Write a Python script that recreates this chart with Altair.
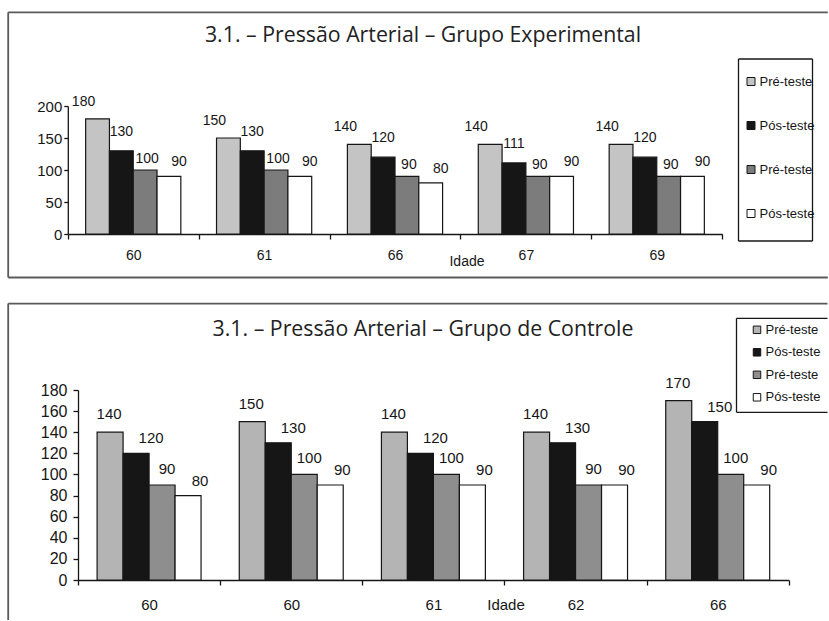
import altair as alt
import pandas as pd

# ---------------- data ----------------
series_keys = ["s1", "s2", "s3", "s4"]
legend_labels = ["Pré-teste", "Pós-teste", "Pré-teste", "Pós-teste"]

idade_exp = ["60", "61", "66", "67", "69"]
exp_pre1 = [180, 150, 140, 140, 140]
exp_pos1 = [130, 130, 120, 111, 120]
exp_pre2 = [100, 100, 90, 90, 90]
exp_pos2 = [90, 90, 80, 90, 90]

idade_ctl = ["60", "60", "61", "62", "66"]
ctl_pre1 = [140, 150, 140, 140, 170]
ctl_pos1 = [120, 130, 120, 130, 150]
ctl_pre2 = [90, 100, 100, 90, 100]
ctl_pos2 = [80, 90, 90, 90, 90]

title_exp = "3.1. – Pressão Arterial – Grupo Experimental"
title_ctl = "3.1. – Pressão Arterial – Grupo de Controle"
x_title = "Idade"


def make_df(ages, cols):
    rows = []
    for i, age in enumerate(ages):
        for k, vals in zip(series_keys, cols):
            rows.append({"g": i, "idade": age, "serie": k, "valor": vals[i]})
    return pd.DataFrame(rows)


df_exp = make_df(idade_exp, [exp_pre1, exp_pos1, exp_pre2, exp_pos2])
df_ctl = make_df(idade_ctl, [ctl_pre1, ctl_pos1, ctl_pre2, ctl_pos2])
one = pd.DataFrame({"k": [0]})

legend_expr = ("datum.label == 's1' || datum.label == 's3' ? '%s' : '%s'"
               % (legend_labels[0], legend_labels[1]))

INK = "#161616"
FRAME = "#5a5a5a"
SANS = "Liberation Sans, Arial, sans-serif"
NOVIEW = alt.ViewBackground(stroke="transparent", strokeWidth=0)


def hrule(x1, x2, y, color, w):
    return alt.Chart(one).mark_rule(color=color, strokeWidth=w).encode(
        x=alt.value(x1), x2=alt.value(x2), y=alt.value(y))


def vrule(x, y1, y2, color, w):
    return alt.Chart(one).mark_rule(color=color, strokeWidth=w).encode(
        x=alt.value(x), y=alt.value(y1), y2=alt.value(y2))


def panel(df, ages, c):
    s = c["shift"]  # horizontal shift of the plot area relative to the group origin
    label_expr = "[" + ",".join("'%s'" % a for a in ages) + "][datum.value]"
    x = alt.X("g:O",
              scale=alt.Scale(paddingInner=0, paddingOuter=0, range=[-s, c["W"] - s]),
              axis=alt.Axis(labelExpr=label_expr, tickBand="extent", labelAngle=0,
                            title=x_title, titleX=c["titleX"] - s, titleY=c["titleY"],
                            titleAlign="center", titleBaseline="top",
                            titleFont=SANS, titleFontSize=c["fs"],
                            titleFontWeight="normal", titleColor=INK,
                            labelFont=SANS, labelFontSize=c["fs"], labelColor=INK,
                            labelBaseline="top", labelPadding=c["xlp"],
                            tickSize=5, tickColor=INK, domainColor=INK,
                            domainWidth=1.3, tickWidth=1.3, grid=False))
    xo = alt.XOffset("serie:N",
                     scale=alt.Scale(domain=series_keys, paddingOuter=c["po"], paddingInner=0))
    y = alt.Y("valor:Q",
              scale=alt.Scale(domain=[0, c["ymax"]], nice=False, zero=True),
              axis=alt.Axis(values=list(range(0, c["ymax"] + 1, c["ystep"])), title=None,
                            offset=s,
                            labelFont=SANS, labelFontSize=c["yfs"], labelColor=INK,
                            labelPadding=c["ylp"], tickSize=c["yts"], tickColor=INK,
                            domainColor=INK, domainWidth=1.3, tickWidth=1.3, grid=False))
    fill = alt.Fill("serie:N",
                    scale=alt.Scale(domain=series_keys, range=c["colors"]),
                    legend=alt.Legend(orient="none", legendX=c["lx"] - s, legendY=c["ly"],
                                      title=None, symbolType="square",
                                      symbolSize=c["ss"], symbolStrokeColor=INK,
                                      symbolStrokeWidth=1, labelFont=SANS,
                                      labelFontSize=c["lfs"], labelColor=INK,
                                      labelOffset=c["lo"], rowPadding=c["rp"],
                                      padding=0, labelExpr=legend_expr))
    bars = alt.Chart(df).mark_bar(stroke=INK, strokeWidth=1.2).encode(
        x=x, xOffset=xo, y=y, fill=fill)

    layers = [bars]
    for k, dx, gap in zip(series_keys, c["ldx"], c["lgap"]):
        layers.append(
            alt.Chart(df).transform_filter(alt.datum.serie == k).mark_text(
                dx=dx, dy=-gap, baseline="alphabetic", align="center",
                font=SANS, fontSize=c["vfs"], color=INK
            ).encode(x=x, xOffset=xo, y=y, text="valor:Q"))

    # title
    layers.append(alt.Chart(one).mark_text(
        text=c["title"], font=c["tfont"], fontSize=c["tfs"], color="#222",
        align="center", baseline="alphabetic").encode(
        x=alt.value(c["tx"] - s), y=alt.value(c["ty"])))

    # frame
    fl, ft, fb, fr = c["frame"]
    layers.append(hrule(fl - s, fr - s, ft, FRAME, 1.8))
    layers.append(vrule(fl - s, ft, fb, FRAME, 1.8))
    if c["frame_bottom"]:
        layers.append(hrule(fl - s, fr - s, fb, FRAME, 1.8))

    # legend box
    bl, bt, bb, br = c["lbox"]
    layers.append(hrule(bl - s, br - s, bt, INK, 1.3))
    layers.append(hrule(bl - s, br - s, bb, INK, 1.3))
    layers.append(vrule(bl - s, bt, bb, INK, 1.3))
    if c["lbox_right"]:
        layers.append(vrule(br - s, bt, bb, INK, 1.3))

    return alt.layer(*layers).properties(width=c["W"], height=c["H"], view=NOVIEW)


top_cfg = dict(
    shift=10.2,
    W=654.4, H=128, ymax=200, ystep=50, po=0.75,
    fs=14, vfs=14, yfs=15, xlp=9, ylp=2, yts=4,
    titleX=398.7, titleY=20,
    colors=["#c4c4c4", INK, "#7c7c7c", "#ffffff"],
    lx=676.7, ly=-31, ss=64, lfs=13, lo=2, rp=30,
    ldx=[-14, 0, 2, 10], lgap=[13, 15, 7, 10],
    title=title_exp, tfont="Open Sans", tfs=21.3, tx=355.2, ty=-64.5,
    frame=(-59.6, -93.7, 171.5, 760), frame_bottom=True,
    lbox=(670.7, -47, 135, 744.7), lbox_right=True,
)

bot_cfg = dict(
    shift=0,
    W=710.8, H=190, ymax=180, ystep=20, po=0.735,
    fs=15, vfs=15, yfs=16, xlp=12, ylp=6, yts=5,
    titleX=427.5, titleY=17,
    colors=["#b4b4b4", INK, "#8e8e8e", "#ffffff"],
    lx=672.5, ly=-66.7, ss=56, lfs=13, lo=2, rp=8.5,
    ldx=[-1, 15, 5, 12], lgap=[13, 10, 11, 10],
    title=title_ctl, tfont="Open Sans", tfs=21.3, tx=345, ty=-54,
    frame=(-69.8, -86.4, 230, 749.5), frame_bottom=False,
    lbox=(658.5, -71.7, 22.3, 749.5), lbox_right=False,
)

top = panel(df_exp, idade_exp, top_cfg)
bottom = panel(df_ctl, idade_ctl, bot_cfg)

chart = alt.vconcat(top, bottom, spacing=23).resolve_scale(
    fill="independent", x="independent", y="independent", xOffset="independent"
).resolve_legend(fill="independent").properties(
    padding={"left": 7, "top": 11, "right": 0, "bottom": 0}
).configure_view(strokeWidth=0, stroke="transparent").configure_axis(
    grid=False
).configure(background="white")

chart.save("out.html", embed_options={"renderer": "svg", "actions": False})
